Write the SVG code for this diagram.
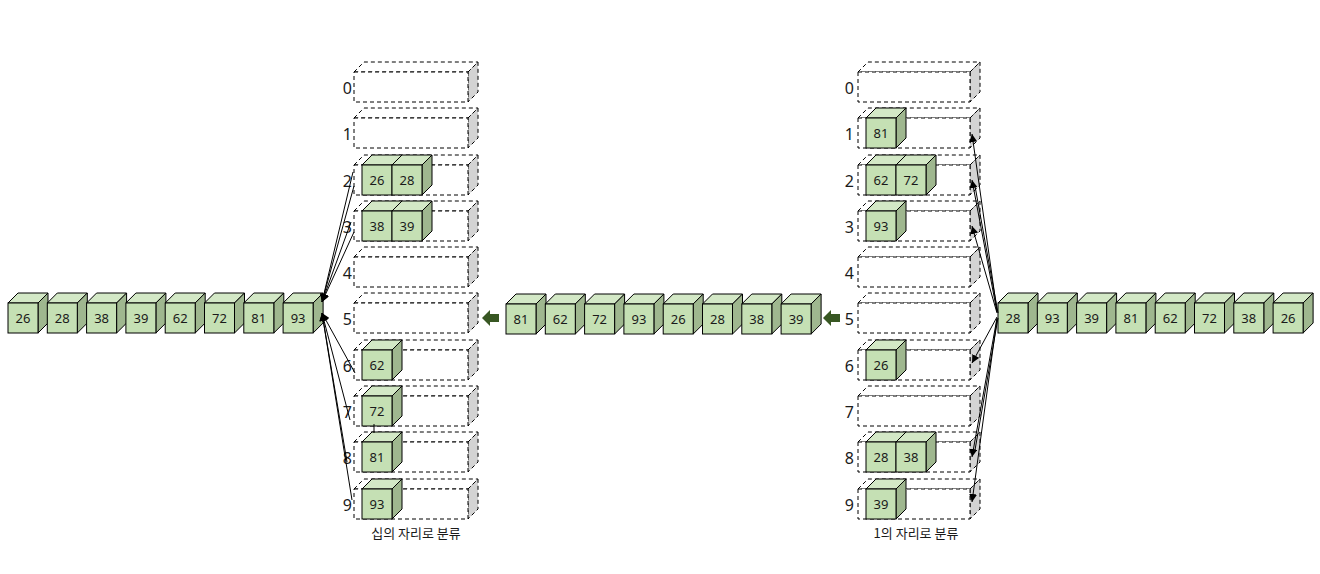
<svg xmlns="http://www.w3.org/2000/svg" xmlns:xlink="http://www.w3.org/1999/xlink" width="1320" height="574" viewBox="0 0 1320 574">
<style>
.cf{fill:#c5e0b4;stroke:#000;stroke-width:1}
.ct{fill:#d3e8c6;stroke:#000;stroke-width:1}
.cs{fill:#9fb78f;stroke:#000;stroke-width:1}
.bf{fill:#fff;stroke:#000;stroke-width:1;stroke-dasharray:4 3}
.bs{fill:#d3d3d3;stroke:#000;stroke-width:1;stroke-dasharray:4 3}
.n{font-family:"Noto Sans","Noto Sans CJK KR",sans-serif;font-size:13px;fill:#1a1a1a;text-anchor:middle}
.d{font-family:"Noto Sans","Noto Sans CJK KR",sans-serif;font-size:16px;fill:#1a1a1a;text-anchor:end}
.cap{font-family:"Noto Sans CJK KR","Noto Sans",sans-serif;font-size:13px;fill:#1a1a1a;text-anchor:middle}
.ln{stroke:#000;stroke-width:1;fill:none}
.blk{fill:#385723}
</style>
<defs>
<g id="cube">
<polygon class="ct" points="0,0 10,-10 40,-10 30,0"/>
<polygon class="cs" points="30,0 40,-10 40,20 30,30"/>
<rect class="cf" x="0" y="0" width="30" height="30"/>
</g>
<g id="bucketL">
<polygon class="bf" points="0,0 10,-10 124,-10 114,0"/>
<polygon class="bs" points="114,0 124,-10 124,20 114,30"/>
<rect class="bf" x="0" y="0" width="114" height="30"/>
</g>
<g id="bucketR">
<polygon class="bf" points="0,0 10,-10 122,-10 112,0"/>
<polygon class="bs" points="112,0 122,-10 122,20 112,30"/>
<rect class="bf" x="0" y="0" width="112" height="30"/>
</g>
<marker id="ah" viewBox="0 0 10 10" refX="10" refY="5" markerWidth="8" markerHeight="8" orient="auto" markerUnits="userSpaceOnUse">
<path d="M0,0 L10,5 L0,10 z" fill="#000"/>
</marker>
</defs>

<!-- left buckets -->
<g id="lbuckets">
<g id="lb0" transform="translate(354,72)"><use xlink:href="#bucketL"/><text class="d" x="-2" y="22">0</text></g>
<g id="lb1" transform="translate(354,118)"><use xlink:href="#bucketL"/><text class="d" x="-2" y="22">1</text></g>
<g id="lb2" transform="translate(354,165)"><use xlink:href="#bucketL"/><text class="d" x="-2" y="22">2</text></g>
<g id="lb3" transform="translate(354,211)"><use xlink:href="#bucketL"/><text class="d" x="-2" y="22">3</text></g>
<g id="lb4" transform="translate(354,257)"><use xlink:href="#bucketL"/><text class="d" x="-2" y="22">4</text></g>
<g id="lb5" transform="translate(354,303)"><use xlink:href="#bucketL"/><text class="d" x="-2" y="22">5</text></g>
<g id="lb6" transform="translate(354,350)"><use xlink:href="#bucketL"/><text class="d" x="-2" y="22">6</text></g>
<g id="lb7" transform="translate(354,396)"><use xlink:href="#bucketL"/><text class="d" x="-2" y="22">7</text></g>
<g id="lb8" transform="translate(354,442)"><use xlink:href="#bucketL"/><text class="d" x="-2" y="22">8</text></g>
<g id="lb9" transform="translate(354,489)"><use xlink:href="#bucketL"/><text class="d" x="-2" y="22">9</text></g>
</g>
<text id="capL" class="cap" x="416" y="538">십의 자리로 분류</text>

<!-- right buckets -->
<g id="rbuckets">
<g id="rb0" transform="translate(858,72)"><use xlink:href="#bucketR"/><text class="d" x="-4" y="22">0</text></g>
<g id="rb1" transform="translate(858,118)"><use xlink:href="#bucketR"/><text class="d" x="-4" y="22">1</text></g>
<g id="rb2" transform="translate(858,165)"><use xlink:href="#bucketR"/><text class="d" x="-4" y="22">2</text></g>
<g id="rb3" transform="translate(858,211)"><use xlink:href="#bucketR"/><text class="d" x="-4" y="22">3</text></g>
<g id="rb4" transform="translate(858,257)"><use xlink:href="#bucketR"/><text class="d" x="-4" y="22">4</text></g>
<g id="rb5" transform="translate(858,303)"><use xlink:href="#bucketR"/><text class="d" x="-4" y="22">5</text></g>
<g id="rb6" transform="translate(858,350)"><use xlink:href="#bucketR"/><text class="d" x="-4" y="22">6</text></g>
<g id="rb7" transform="translate(858,396)"><use xlink:href="#bucketR"/><text class="d" x="-4" y="22">7</text></g>
<g id="rb8" transform="translate(858,442)"><use xlink:href="#bucketR"/><text class="d" x="-4" y="22">8</text></g>
<g id="rb9" transform="translate(858,489)"><use xlink:href="#bucketR"/><text class="d" x="-4" y="22">9</text></g>
</g>
<text id="capR" class="cap" x="916" y="538">1의 자리로 분류</text>

<!-- cubes in left buckets -->
<g id="lc26" transform="translate(362,165)"><use xlink:href="#cube"/><text class="n" x="15" y="20">26</text></g>
<g id="lc28" transform="translate(392,165)"><use xlink:href="#cube"/><text class="n" x="15" y="20">28</text></g>
<g id="lc38" transform="translate(362,211)"><use xlink:href="#cube"/><text class="n" x="15" y="20">38</text></g>
<g id="lc39" transform="translate(392,211)"><use xlink:href="#cube"/><text class="n" x="15" y="20">39</text></g>
<g id="lc62" transform="translate(362,350)"><use xlink:href="#cube"/><text class="n" x="15" y="20">62</text></g>
<g id="lc72" transform="translate(362,396)"><use xlink:href="#cube"/><text class="n" x="15" y="20">72</text></g>
<g id="lc81" transform="translate(362,442)"><use xlink:href="#cube"/><text class="n" x="15" y="20">81</text></g>
<g id="lc93" transform="translate(362,489)"><use xlink:href="#cube"/><text class="n" x="15" y="20">93</text></g>

<!-- cubes in right buckets -->
<g id="rc81" transform="translate(866,118)"><use xlink:href="#cube"/><text class="n" x="15" y="20">81</text></g>
<g id="rc62" transform="translate(866,165)"><use xlink:href="#cube"/><text class="n" x="15" y="20">62</text></g>
<g id="rc72" transform="translate(896,165)"><use xlink:href="#cube"/><text class="n" x="15" y="20">72</text></g>
<g id="rc93" transform="translate(866,211)"><use xlink:href="#cube"/><text class="n" x="15" y="20">93</text></g>
<g id="rc26" transform="translate(866,350)"><use xlink:href="#cube"/><text class="n" x="15" y="20">26</text></g>
<g id="rc28" transform="translate(866,442)"><use xlink:href="#cube"/><text class="n" x="15" y="20">28</text></g>
<g id="rc38" transform="translate(896,442)"><use xlink:href="#cube"/><text class="n" x="15" y="20">38</text></g>
<g id="rc39" transform="translate(866,489)"><use xlink:href="#cube"/><text class="n" x="15" y="20">39</text></g>

<!-- left row -->
<g id="rowL">
<g id="L1" transform="translate(8,303)"><use xlink:href="#cube"/><text class="n" x="15" y="20">26</text></g>
<g id="L2" transform="translate(47.3,303)"><use xlink:href="#cube"/><text class="n" x="15" y="20">28</text></g>
<g id="L3" transform="translate(86.6,303)"><use xlink:href="#cube"/><text class="n" x="15" y="20">38</text></g>
<g id="L4" transform="translate(125.9,303)"><use xlink:href="#cube"/><text class="n" x="15" y="20">39</text></g>
<g id="L5" transform="translate(165.2,303)"><use xlink:href="#cube"/><text class="n" x="15" y="20">62</text></g>
<g id="L6" transform="translate(204.5,303)"><use xlink:href="#cube"/><text class="n" x="15" y="20">72</text></g>
<g id="L7" transform="translate(243.8,303)"><use xlink:href="#cube"/><text class="n" x="15" y="20">81</text></g>
<g id="L8" transform="translate(283.1,303)"><use xlink:href="#cube"/><text class="n" x="15" y="20">93</text></g>
</g>

<!-- middle row -->
<g id="rowM">
<g id="M1" transform="translate(506,304)"><use xlink:href="#cube"/><text class="n" x="15" y="20">81</text></g>
<g id="M2" transform="translate(545.3,304)"><use xlink:href="#cube"/><text class="n" x="15" y="20">62</text></g>
<g id="M3" transform="translate(584.6,304)"><use xlink:href="#cube"/><text class="n" x="15" y="20">72</text></g>
<g id="M4" transform="translate(623.9,304)"><use xlink:href="#cube"/><text class="n" x="15" y="20">93</text></g>
<g id="M5" transform="translate(663.2,304)"><use xlink:href="#cube"/><text class="n" x="15" y="20">26</text></g>
<g id="M6" transform="translate(702.5,304)"><use xlink:href="#cube"/><text class="n" x="15" y="20">28</text></g>
<g id="M7" transform="translate(741.8,304)"><use xlink:href="#cube"/><text class="n" x="15" y="20">38</text></g>
<g id="M8" transform="translate(781.1,304)"><use xlink:href="#cube"/><text class="n" x="15" y="20">39</text></g>
</g>

<!-- right row -->
<g id="rowR">
<g id="R1" transform="translate(998,303)"><use xlink:href="#cube"/><text class="n" x="15" y="20">28</text></g>
<g id="R2" transform="translate(1037.3,303)"><use xlink:href="#cube"/><text class="n" x="15" y="20">93</text></g>
<g id="R3" transform="translate(1076.6,303)"><use xlink:href="#cube"/><text class="n" x="15" y="20">39</text></g>
<g id="R4" transform="translate(1115.9,303)"><use xlink:href="#cube"/><text class="n" x="15" y="20">81</text></g>
<g id="R5" transform="translate(1155.2,303)"><use xlink:href="#cube"/><text class="n" x="15" y="20">62</text></g>
<g id="R6" transform="translate(1194.5,303)"><use xlink:href="#cube"/><text class="n" x="15" y="20">72</text></g>
<g id="R7" transform="translate(1233.8,303)"><use xlink:href="#cube"/><text class="n" x="15" y="20">38</text></g>
<g id="R8" transform="translate(1273.1,303)"><use xlink:href="#cube"/><text class="n" x="15" y="20">26</text></g>
</g>

<!-- block arrows -->
<g id="arrowA"><polygon class="blk" points="482,318 490,310 490,314 499,314 499,322 490,322 490,326"/></g>
<g id="arrowB"><polygon class="blk" points="823,318 831,310 831,314 840,314 840,322 831,322 831,326"/></g>

<!-- connectors -->
<g id="connectors">
<line class="ln" x1="353" y1="172" x2="322" y2="302" marker-end="url(#ah)"/>
<line class="ln" x1="354" y1="186" x2="322" y2="302" marker-end="url(#ah)"/>
<line class="ln" x1="351" y1="222" x2="322" y2="302" marker-end="url(#ah)"/>
<line class="ln" x1="354" y1="232" x2="322" y2="302" marker-end="url(#ah)"/>
<line class="ln" x1="355" y1="373" x2="322" y2="313" marker-end="url(#ah)"/>
<line class="ln" x1="350" y1="420" x2="322" y2="313" marker-end="url(#ah)"/>
<line class="ln" x1="347" y1="462" x2="322" y2="313" marker-end="url(#ah)"/>
<line class="ln" x1="352" y1="500" x2="322" y2="313" marker-end="url(#ah)"/>
<line class="ln" x1="374" y1="424" x2="374" y2="433"/>
<line class="ln" x1="997" y1="311" x2="972" y2="134" marker-end="url(#ah)"/>
<line class="ln" x1="997" y1="312" x2="972" y2="180" marker-end="url(#ah)"/>
<line class="ln" x1="998" y1="313" x2="975" y2="186"/>
<line class="ln" x1="997" y1="313" x2="972" y2="226" marker-end="url(#ah)"/>
<line class="ln" x1="997" y1="317" x2="972" y2="363" marker-end="url(#ah)"/>
<line class="ln" x1="997" y1="318" x2="972" y2="457" marker-end="url(#ah)"/>
<line class="ln" x1="998" y1="318" x2="975" y2="450"/>
<line class="ln" x1="997" y1="319" x2="972" y2="502" marker-end="url(#ah)"/>
</g>
</svg>
